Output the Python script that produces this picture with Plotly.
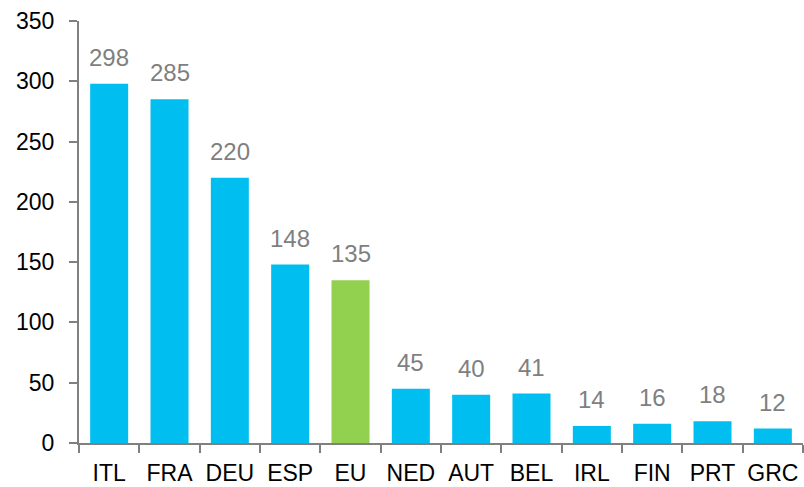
import plotly.graph_objects as go

categories = ["ITL", "FRA", "DEU", "ESP", "EU", "NED", "AUT", "BEL", "IRL", "FIN", "PRT", "GRC"]
values = [298, 285, 220, 148, 135, 45, 40, 41, 14, 16, 18, 12]
highlight = "EU"

colors = ["#92D050" if c == highlight else "#00BFF0" for c in categories]
FONT = "Liberation Sans, Arial"

fig = go.Figure()
fig.add_trace(go.Bar(x=categories, y=values, marker=dict(color=colors, line=dict(width=0)),
                     hoverinfo="x+y"))

for c, v in zip(categories, values):
    fig.add_annotation(x=c, y=v, text=str(v), showarrow=False, yanchor="bottom",
                       yshift=11, font=dict(family=FONT, size=24, color="#7F7F7F"))

fig.update_layout(
    width=804, height=487,
    margin=dict(l=79, r=1, t=21, b=44, autoexpand=False),
    paper_bgcolor="white", plot_bgcolor="white",
    bargap=0.37, showlegend=False,
    font=dict(family=FONT, size=23, color="black"),
)
fig.update_yaxes(range=[0, 350], tickvals=[0, 50, 100, 150, 200, 250, 300, 350],
                 showgrid=False, zeroline=False, showline=True, linecolor="#808080", linewidth=2,
                 ticks="outside", ticklen=8, tickcolor="#808080", tickwidth=2, automargin=False,
                 ticklabelstandoff=10,
                 tickfont=dict(family=FONT, size=23, color="black"))
fig.update_xaxes(showgrid=False, showline=True, linecolor="#808080", linewidth=2,
                 ticks="outside", ticklen=8, tickcolor="#808080", tickwidth=2, automargin=False,
                 ticklabelstandoff=8,
                 tickangle=0, tickson="boundaries", tickfont=dict(family=FONT, size=23, color="black"))

fig.write_html("out.html", config={"displayModeBar": False},
               post_script="document.body.style.margin='0';")
